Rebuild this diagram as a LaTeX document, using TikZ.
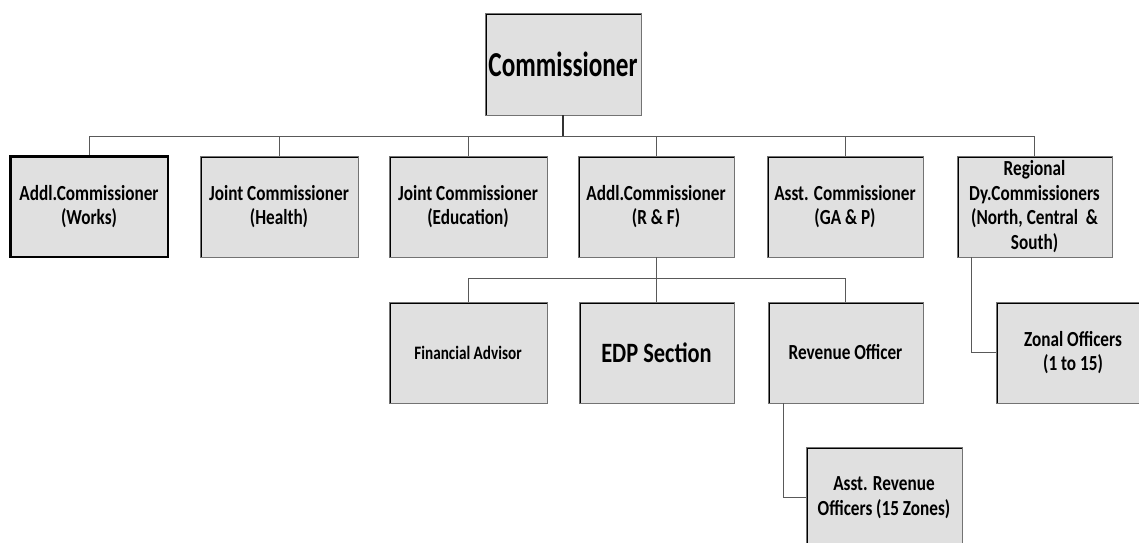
\documentclass[tikz,border=0pt]{standalone}
\usepackage{fontspec}
\newfontfamily\boxfont{Carlito}[FakeStretch=0.8]
\newfontfamily\headfont{Carlito}[FakeStretch=0.72]
\begin{document}
\begin{tikzpicture}[x=1pt,y=-1pt,
  orgbox/.style={draw=black!55, line width=0.9pt, fill=black!12,
    minimum width=156pt, minimum height=101pt, inner sep=0pt, align=center,
    font=\boxfont\bfseries\fontsize{21.5}{24.5}\selectfont,
    path picture={\draw[black, line width=4pt]
      (path picture bounding box.south west) -- (path picture bounding box.north west)
      -- (path picture bounding box.north east);}},
  heavybox/.style={orgbox, draw=black, line width=2.6pt},
  link/.style={draw=black!65, line width=0.9pt},
  stem/.style={draw=black!80, line width=1.6pt}]
\useasboundingbox (0,0) rectangle (1139,542);
\clip (0,0) rectangle (1139,542);

% head of the organisation
\node[orgbox, minimum height=102pt, font=\headfont\bfseries\fontsize{35}{40}\selectfont] (com) at (563,64) {Commissioner};

% first level
\node[heavybox, minimum width=158pt] (b1) at (89,206.5) {Addl.Commissioner\\(Works)};
\node[orgbox, minimum width=158pt] (b2) at (279,206.5) {Joint Commissioner\\(Health)};
\node[orgbox, minimum width=158pt] (b3) at (468,206.5) {Joint Commissioner\\(Education)};
\node[orgbox] (b4) at (656,206.5) {Addl.Commissioner\\(R \& F)};
\node[orgbox] (b5) at (845,206.5) {Asst. Commissioner\\(GA \& P)};
\node[orgbox, minimum width=155pt] (b6) at (1034.5,206.5) {Regional\\Dy.Commissioners\\(North, Central \ \&\\South)};

% second level
\node[orgbox, minimum width=158pt, font=\boxfont\bfseries\fontsize{19}{22}\selectfont] (fa) at (468,352.5) {Financial Advisor};
\node[orgbox, minimum width=155pt, font=\boxfont\bfseries\fontsize{28}{32}\selectfont] (edp) at (656.5,352.5) {EDP Section};
\node[orgbox, minimum width=155pt] (rev) at (845.5,352.5) {Revenue Officer};
\node[orgbox, minimum width=154pt] (zon) at (1073,352.5) {Zonal Officers\\(1 to 15)};

% third level
\node[orgbox, minimum width=156pt] (arev) at (884,497.5) {Asst. Revenue\\Officers (15 Zones)};

% bus lines
\coordinate (bus) at (563,136);
\coordinate (bus2) at (656,278);

\draw[stem] (com.south) -- (bus);
\draw[link] (b1.north) -- (b1.north |- bus) -- (b6.north |- bus) -- (b6.north);
\foreach \n in {b2,b3,b4,b5}
  \draw[link] (\n.north) -- (\n.north |- bus);

\draw[link] (b4.south) -- (bus2);
\draw[link] (fa.north) -- (fa.north |- bus2) -- (rev.north |- bus2) -- (rev.north);
\draw[link] (edp.north) -- (edp.north |- bus2);

\draw[link] ([xshift=-63.5pt]b6.south) |- (zon.west);
\draw[link] ([xshift=-62.5pt]rev.south) |- (arev.west);
\end{tikzpicture}
\end{document}
